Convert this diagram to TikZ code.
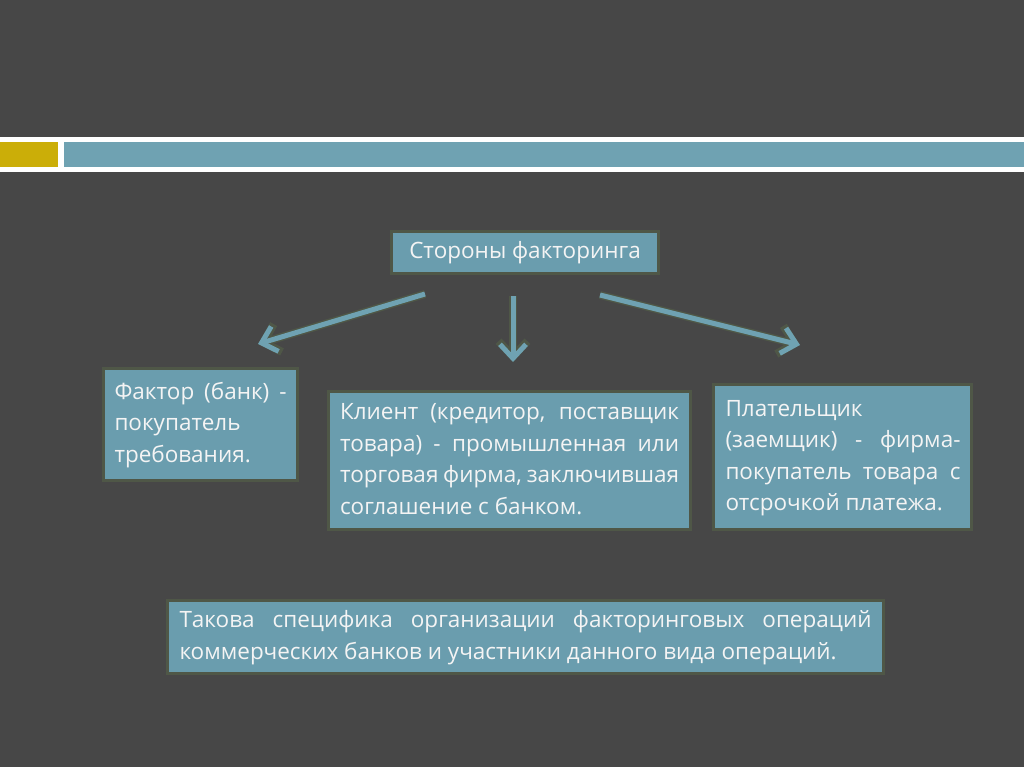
\documentclass[tikz,border=0pt]{standalone}
\usepackage{fontspec}
\setmainfont{Open Sans}
\usetikzlibrary{arrows.meta}
\definecolor{bg}{HTML}{474747}
\definecolor{barblue}{HTML}{6FA2B2}
\definecolor{baryellow}{HTML}{CBAE08}
\definecolor{boxblue}{HTML}{6A9DAE}
\definecolor{boxedge}{HTML}{4F5747}
\definecolor{txt}{HTML}{F4F4F4}
\newcommand{\jl}[2]{\makebox[#1pt][s]{#2}}
\tikzset{
  box/.style={fill=boxblue, draw=boxedge, line width=3pt, text=txt, anchor=north west,
    inner sep=0pt, align=left, font=\fontsize{22.5}{31.5}\selectfont},
  arr/.style={draw=barblue, line width=5pt, -{Straight Barb[length=14pt,width=26pt,line width=5pt]}},
  arrshadow/.style={draw=boxedge, line width=8pt, -{Straight Barb[length=15pt,width=29pt,line width=8pt]}}
}
\begin{document}
\begin{tikzpicture}[x=1pt,y=-1pt]
\useasboundingbox (0,0) rectangle (1024,767);
\fill[bg] (0,0) rectangle (1024,767);
\fill[white] (0,137) rectangle (1024,172);
\fill[baryellow] (0,142) rectangle (58,167);
\fill[barblue] (64,142) rectangle (1024,167);

\node[box, minimum width=267pt, minimum height=42pt, align=center] (title) at (390,230) {Стороны факторинга};

\node[box, minimum width=194pt, minimum height=112pt] (b1) at (102,367)
  {\hspace*{11pt}\raisebox{-4pt}{\begin{tabular}{@{}l@{}}\jl{172}{Фактор (банк) -}\\ покупатель\\ требования.\end{tabular}}\hspace*{11pt}};

\node[box, minimum width=362pt, minimum height=138pt] (b2) at (327,390)
  {\hspace*{11pt}\raisebox{-2pt}{\begin{tabular}{@{}l@{}}\jl{339}{Клиент (кредитор, поставщик}\\ \jl{339}{товара) - промышленная или}\\ \jl{339}{торговая фирма, заключившая}\\ соглашение с банком.\end{tabular}}\hspace*{11pt}};

\node[box, minimum width=258pt, minimum height=145pt] (b3) at (712,383)
  {\hspace*{12pt}\raisebox{-2pt}{\begin{tabular}{@{}l@{}}Плательщик\\ \jl{235}{(заемщик) - фирма-}\\ \jl{235}{покупатель товара с}\\ отсрочкой платежа.\end{tabular}}\hspace*{11pt}};

\node[box, minimum width=716pt, minimum height=73pt] (b4) at (166,599)
  {\hspace*{12pt}\raisebox{-3pt}{\begin{tabular}{@{}l@{}}\jl{692}{Такова специфика организации факторинговых операций}\\ коммерческих банков и участники данного вида операций.\end{tabular}}\hspace*{12pt}};

\coordinate (a1s) at (425,294);
\coordinate (a1e) at (258,344);
\coordinate (a2s) at (513,296);
\coordinate (a2e) at (513,362);
\coordinate (a3s) at (600,295);
\coordinate (a3e) at (800,345);
\foreach \s/\e in {a1s/a1e,a2s/a2e,a3s/a3e}{
  \draw[arrshadow] (\s) -- (\e);
  \draw[arr] (\s) -- (\e);
}
\end{tikzpicture}
\end{document}
